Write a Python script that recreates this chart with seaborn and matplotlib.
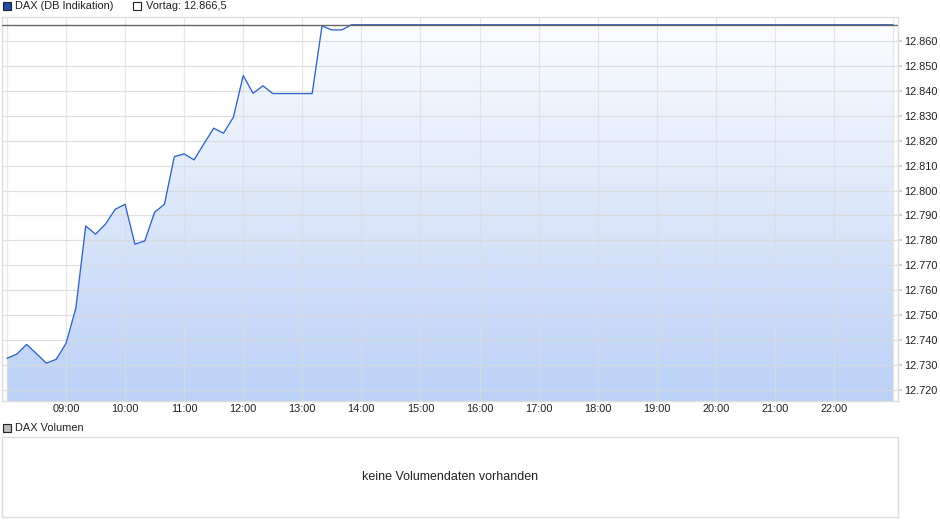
import numpy as np
import pandas as pd
import matplotlib
matplotlib.use("Agg")
import matplotlib.pyplot as plt
import seaborn as sns
from matplotlib.colors import LinearSegmentedColormap
from matplotlib.patches import Rectangle

# intraday DAX (DB Indikation), 10-minute points
times = ["08:00", "08:10", "08:20", "08:30", "08:40", "08:50",
         "09:00", "09:10", "09:20", "09:30", "09:40", "09:50",
         "10:00", "10:10", "10:20", "10:30", "10:40", "10:50",
         "11:00", "11:10", "11:20", "11:30", "11:40", "11:50",
         "12:00", "12:10", "12:20", "12:30", "12:40", "12:50",
         "13:00", "13:10", "13:20", "13:30", "13:40", "13:50",
         "23:00"]
values = [12732.7, 12734.4, 12738.3, 12734.6, 12730.8, 12732.3,
          12738.7, 12752.8, 12785.8, 12782.5, 12786.5, 12792.5,
          12794.5, 12778.5, 12779.8, 12791.3, 12794.5, 12813.6,
          12814.7, 12812.3, 12818.7, 12825.0, 12823.0, 12829.4,
          12846.1, 12839.0, 12842.0, 12838.9, 12838.9, 12838.9,
          12838.9, 12838.9, 12866.0, 12864.4, 12864.4, 12866.5,
          12866.5]
prev_close = 12866.5
y_ticks = [12720, 12730, 12740, 12750, 12760, 12770, 12780,
           12790, 12800, 12810, 12820, 12830, 12840, 12850, 12860]
hour_ticks = list(range(8, 24))
hour_labels = ["" if h in (8, 23) else f"{h:02d}:00" for h in hour_ticks]


def to_hours(t):
    h, m = t.split(":")
    return int(h) + int(m) / 60


df = pd.DataFrame({"hour": [to_hours(t) for t in times], "kurs": values})

sns.set_theme(style="white")
plt.rcParams["font.family"] = ["Liberation Sans", "DejaVu Sans"]

W, H = 940, 526
FS = 7.9
fig = plt.figure(figsize=(W / 100, H / 100), dpi=100)
ax = fig.add_axes([2 / W, 1 - 401 / H, 896 / W, 384 / H])

x0, x1 = 8 - 5 / 60, 23 + 5 / 60
y0, y1 = 12715.6, 12869.6
ax.set_xlim(x0, x1)
ax.set_ylim(y0, y1)

# gradient area under the curve
cmap = LinearSegmentedColormap.from_list("fill", ["#bbd1f6", "#fcfdff"])
grad = np.linspace(0, 1, 256).reshape(-1, 1)
img = ax.imshow(grad, cmap=cmap, origin="lower", aspect="auto",
                extent=[x0, x1, y0, y1], zorder=1)
poly = ax.fill_between(df["hour"], df["kurs"], y0, color="none", lw=0)
img.set_clip_path(poly.get_paths()[0], transform=ax.transData)

for y in y_ticks:
    ax.axhline(y, color="#d8d8d8", lw=0.9, zorder=2, alpha=0.8)
for h in hour_ticks:
    ax.axvline(h, color="#dcdcdc", lw=0.9, zorder=2, alpha=0.7)

sns.lineplot(data=df, x="hour", y="kurs", ax=ax, color="#2f63c8",
             lw=0.95, zorder=4)
ax.axhline(prev_close, color="#666666", lw=1.0, zorder=5)

ax.set_xlabel("")
ax.set_ylabel("")
ax.set_xticks(hour_ticks)
ax.set_xticklabels(hour_labels)
ax.set_yticks(y_ticks)
ax.set_yticklabels([f"{v / 1000:.3f}" for v in y_ticks])
ax.yaxis.tick_right()
ax.tick_params(axis="y", length=3, color="#cccccc", labelsize=FS,
               labelcolor="#222222", pad=1.5, right=True, left=False)
ax.tick_params(axis="x", length=0, labelsize=FS, labelcolor="#222222", pad=2)
for s in ax.spines.values():
    s.set_color("#dddddd")
    s.set_linewidth(1)

# header legend
fig.add_artist(Rectangle((3 / W, 1 - 10 / H), 8 / W, 8 / H,
                         facecolor="#1f4fa8", edgecolor="#222222", lw=0.8))
fig.text(15 / W, 1 - 6 / H, "DAX (DB Indikation)", fontsize=FS,
         va="center", color="#222222")
fig.add_artist(Rectangle((133 / W, 1 - 10 / H), 8 / W, 8 / H,
                         facecolor="white", edgecolor="#222222", lw=0.8))
fig.text(146 / W, 1 - 6 / H, "Vortag: 12.866,5", fontsize=FS,
         va="center", color="#222222")

# volume panel
fig.add_artist(Rectangle((3 / W, 1 - 432 / H), 8 / W, 8 / H,
                         facecolor="#bbbbbb", edgecolor="#222222", lw=0.8))
fig.text(15 / W, 1 - 428 / H, "DAX Volumen", fontsize=FS,
         va="center", color="#222222")
vax = fig.add_axes([2 / W, 1 - 517 / H, 896 / W, 80 / H])
vax.set_xticks([])
vax.set_yticks([])
for s in vax.spines.values():
    s.set_color("#dddddd")
    s.set_linewidth(1)
vax.text(0.5, 0.5, "keine Volumendaten vorhanden", transform=vax.transAxes,
         ha="center", va="center", fontsize=9, color="#222222")

fig.savefig("out.png", dpi=100)
